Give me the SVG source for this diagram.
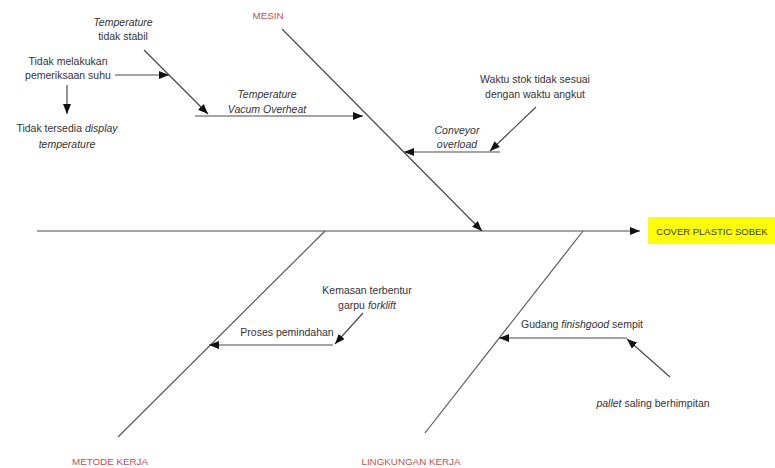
<svg xmlns="http://www.w3.org/2000/svg" width="775" height="468" viewBox="0 0 775 468">
<defs>
<marker id="ah" viewBox="0 0 10 8" refX="10" refY="4" markerWidth="10" markerHeight="8" markerUnits="userSpaceOnUse" orient="auto">
<path d="M0,0 L10,4 L0,8 Z" fill="#111"/>
</marker>
<style>
.ln{stroke:#5a5a5a;stroke-width:1.2;fill:none}
.ar{stroke:#4a4a4a;stroke-width:1.2;fill:none;marker-end:url(#ah)}
.t{font-family:"Liberation Sans",Arial,sans-serif;font-size:10.5px;fill:#333;text-anchor:middle}
.i{font-style:italic}
.cat{font-family:"Liberation Sans",Arial,sans-serif;font-size:9.8px;fill:#c0504d;text-anchor:middle}
.eff{font-family:"Liberation Sans",Arial,sans-serif;font-size:9.5px;fill:#333;text-anchor:middle}
</style>
</defs>
<rect width="775" height="468" fill="#fff"/>
<g id="connectors">
<line class="ar" x1="37" y1="231" x2="640" y2="231"/>
<line class="ar" x1="282" y1="29" x2="482" y2="231"/>
<line class="ln" x1="325" y1="231" x2="118" y2="437"/>
<line class="ln" x1="583" y1="231" x2="425" y2="433"/>
<line class="ar" x1="195" y1="116" x2="363" y2="116"/>
<line class="ar" x1="144" y1="50" x2="208" y2="114"/>
<line class="ar" x1="115" y1="75" x2="169" y2="75"/>
<line class="ar" x1="67" y1="85" x2="67" y2="114"/>
<line class="ar" x1="500" y1="152" x2="404" y2="152"/>
<line class="ar" x1="536" y1="107" x2="490" y2="151"/>
<line class="ar" x1="333" y1="345" x2="209" y2="345"/>
<line class="ar" x1="363" y1="313" x2="335" y2="344"/>
<line class="ar" x1="627" y1="338" x2="499" y2="338"/>
<line class="ar" x1="670" y1="377" x2="627" y2="339"/>
</g>
<g id="effect">
<rect x="648" y="217" width="127" height="27" fill="#ffff00"/>
<text class="eff" x="712" y="235">COVER PLASTIC SOBEK</text>
</g>
<g id="mesin"><text class="cat" x="268" y="19">MESIN</text></g>
<g id="metode"><text class="cat" x="110" y="465">METODE KERJA</text></g>
<g id="lingkungan"><text class="cat" x="411" y="465">LINGKUNGAN KERJA</text></g>
<g id="temp-overheat"><text class="t i" x="267" y="98">Temperature</text><text class="t i" x="267" y="113">Vacum Overheat</text></g>
<g id="temp-stabil"><text class="t" x="123" y="26"><tspan class="i">Temperature</tspan></text><text class="t" x="123" y="40">tidak stabil</text></g>
<g id="pemeriksaan"><text class="t" x="68" y="65">Tidak melakukan</text><text class="t" x="68" y="79">pemeriksaan suhu</text></g>
<g id="display"><text class="t" x="67" y="132">Tidak tersedia <tspan font-style="italic">display</tspan></text><text class="t i" x="67" y="148">temperature</text></g>
<g id="conveyor"><text class="t i" x="457" y="134">Conveyor</text><text class="t i" x="457" y="148">overload</text></g>
<g id="waktu"><text class="t" x="535" y="83">Waktu stok tidak sesuai</text><text class="t" x="535" y="98">dengan waktu angkut</text></g>
<g id="proses"><text class="t" x="287" y="336">Proses pemindahan</text></g>
<g id="kemasan"><text class="t" x="367" y="294">Kemasan terbentur</text><text class="t" x="367" y="309">garpu <tspan font-style="italic">forklift</tspan></text></g>
<g id="gudang"><text class="t" x="582" y="328">Gudang <tspan font-style="italic">finishgood</tspan> sempit</text></g>
<g id="pallet"><text class="t" x="653" y="407"><tspan font-style="italic">pallet</tspan> saling berhimpitan</text></g>
</svg>
